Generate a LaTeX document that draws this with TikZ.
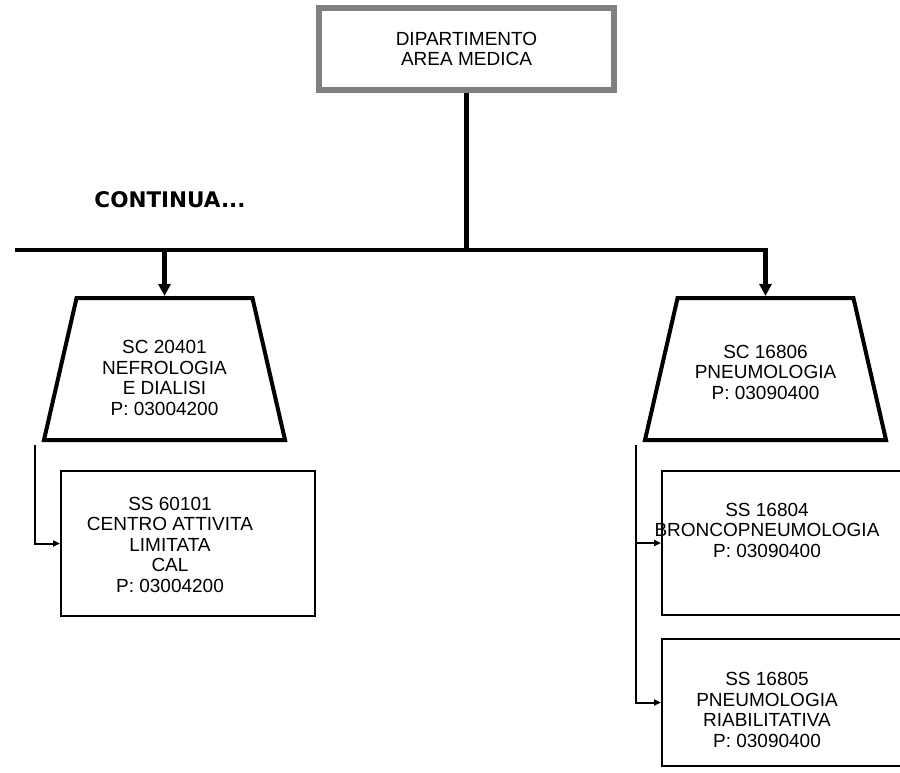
\documentclass[tikz,border=0pt]{standalone}
\usepackage{fontspec}
\setmainfont{Liberation Sans}
\newfontfamily\headfont{DejaVu Sans}
\usetikzlibrary{positioning,shapes.geometric,arrows.meta}

\tikzset{
  dept/.style={draw=gray, line width=6pt, rectangle, minimum width=295pt, minimum height=82pt, inner sep=0pt, align=center, font=\fontsize{19}{20.5}\selectfont},
  unit/.style={draw, line width=4pt, trapezium, trapezium stretches=true, trapezium left angle=79.5, trapezium right angle=79.5, minimum width=241pt, minimum height=142pt, inner sep=2pt},
  subunit/.style={draw, line width=2pt, rectangle, inner sep=0pt, minimum width=254pt},
  txt/.style={align=center, inner sep=0pt, font=\fontsize{19}{20.5}\selectfont},
  bus/.style={line width=4.5pt},
  link/.style={line width=2pt},
}

\begin{document}
\begin{tikzpicture}[x=1pt, y=-1pt, node distance=25pt]
  \useasboundingbox (0,0) rectangle (900,772);
  \clip (0,0) rectangle (900,772);

  % Define nodes
  \node[dept]                                  (dep)    at (466.5,49) {DIPARTIMENTO\\AREA MEDICA};
  \node[font={\headfont\bfseries\fontsize{21.5}{24}\selectfont}] (cont) at (170,200) {CONTINUA...};
  \node[unit]                                  (nefro)  at (164.5,369) {};
  \node[unit]                                  (pneumo) at (765.5,369) {};
  \node[subunit, minimum height=145pt, below=28pt of nefro, xshift=23.5pt]   (cal)    {};
  \node[subunit, minimum width=257pt, minimum height=144pt,
        below=28pt of pneumo, xshift=25pt]                                  (bronco) {};
  \node[subunit, minimum width=257pt, minimum height=127pt, below=22pt of bronco] (riab) {};

  % Texts of the units
  \node[txt] (nefroT)  at ([yshift=-9pt]nefro.center)  {SC 20401\\NEFROLOGIA\\E DIALISI\\P: 03004200};
  \node[txt] (pneumoT) at ([yshift=-3pt]pneumo.center) {SC 16806\\PNEUMOLOGIA\\P: 03090400};
  \node[txt] (calT)    at ([xshift=-18pt,yshift=-1pt]cal.center) {SS 60101\\CENTRO ATTIVITA\\LIMITATA\\CAL\\P: 03004200};
  \node[txt] (broncoT) at ([xshift=-23.5pt,yshift=13pt]bronco.center) {SS 16804\\BRONCOPNEUMOLOGIA\\P: 03090400};
  \node[txt] (riabT)   at ([xshift=-23.5pt,yshift=-7.5pt]riab.center) {SS 16805\\PNEUMOLOGIA\\RIABILITATIVA\\P: 03090400};

  \coordinate (busL) at (15,250);
  \coordinate (busR) at (765.5,250);
  \coordinate (tapL) at (35,445);
  \coordinate (tapR) at (636,445);

  % Connect the nodes
  \draw[bus] (dep.south) -- (dep.south |- busL);
  \draw[bus, -{Triangle[length=12pt,width=12pt]}] (busL) -- (busR) -- (pneumo.north);
  \draw[bus, -{Triangle[length=12pt,width=12pt]}] (nefro.north |- busL) -- (nefro.north);
  \draw[link, -{Triangle[length=7pt,width=6pt]}] (tapL) |- (cal.west);
  \draw[link, -{Triangle[length=7pt,width=6pt]}] (tapR) |- (bronco.west);
  \draw[link, -{Triangle[length=7pt,width=6pt]}] (tapR) |- (riab.west);
\end{tikzpicture}
\end{document}
